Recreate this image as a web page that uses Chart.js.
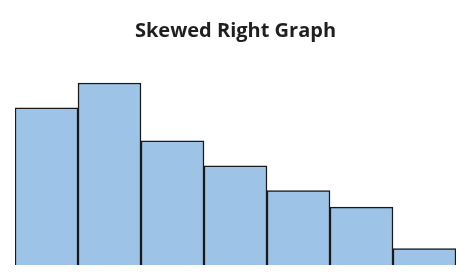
<!DOCTYPE html>
<html>
<head>
<meta charset="utf-8">
<script src="https://cdn.jsdelivr.net/npm/chart.js@4"></script>
<style>
html,body{margin:0;padding:0;background:#fff;}
#wrap{width:468px;height:278px;position:relative;}
</style>
</head>
<body>
<div id="wrap"><canvas id="c"></canvas></div>
<script>
const categories = ["1", "2", "3", "4", "5", "6", "7"];
const frequencies = [9.5, 11, 7.5, 6, 4.5, 3.5, 1];
const chartTitle = "Skewed Right Graph";

new Chart(document.getElementById('c'), {
  type: 'bar',
  data: {
    labels: categories,
    datasets: [{
      data: frequencies,
      backgroundColor: '#9DC3E6',
      borderColor: '#1a1a1a',
      borderWidth: 1.5,
      categoryPercentage: 1,
      barPercentage: 1
    }]
  },
  options: {
    responsive: true,
    maintainAspectRatio: false,
    animation: false,
    layout: { padding: { left: 15, right: 12, top: 0, bottom: 13 } },
    plugins: {
      legend: { display: false },
      tooltip: { enabled: false },
      title: {
        display: true,
        text: chartTitle,
        color: '#1f1f1f',
        font: { family: 'Open Sans', size: 20, weight: 'bold', lineHeight: 1.2 },
        padding: { top: 19, bottom: 23.5 }
      }
    },
    scales: {
      x: { display: false },
      y: { display: false, min: 0, max: 12 }
    }
  }
});
</script>
</body>
</html>
